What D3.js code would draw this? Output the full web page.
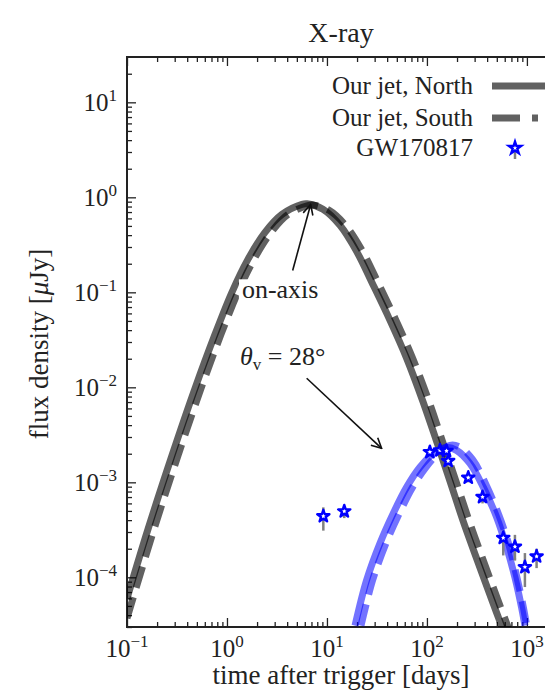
<!DOCTYPE html>
<html>
<head>
<meta charset="utf-8">
<script src="https://cdn.jsdelivr.net/npm/d3@7"></script>
<style>
  body { margin: 0; background: #fff; }
  svg { display: block; font-family: "Liberation Serif", "Times New Roman", serif; }
</style>
</head>
<body>
<svg id="chart" width="545" height="692"></svg>
<script>
// on-axis jet, north / south (days, microJy)
const northTime = [0.1, 0.162, 0.282, 0.479, 0.759, 1.12, 1.62, 2.40, 3.55, 5.62, 6.31, 9.12, 13.5, 19.8, 28.8, 42.7, 62.7, 91.2, 125, 170, 229, 314, 460, 580];
const northFlux = [6.0e-5, 3.2e-4, 1.92e-3, 9.75e-3, 0.0361, 0.100, 0.222, 0.428, 0.662, 0.844, 0.855, 0.748, 0.507, 0.270, 0.121, 0.0507, 0.0202, 7.1e-3, 2.7e-3, 1.03e-3, 3.98e-4, 1.58e-4, 5.3e-5, 2.77e-5];
const southTime = [0.1, 0.186, 0.324, 0.55, 0.871, 1.286, 1.86, 2.76, 4.08, 6.45, 7.24, 10.5, 15.5, 22.7, 33.1, 49.0, 72.0, 105, 143, 195, 263, 360, 528, 666];
const southFlux = [3.7e-5, 3.2e-4, 1.92e-3, 9.75e-3, 0.0361, 0.100, 0.222, 0.428, 0.662, 0.82, 0.83, 0.73, 0.50, 0.27, 0.121, 0.0507, 0.0202, 7.1e-3, 2.7e-3, 1.03e-3, 3.98e-4, 1.58e-4, 5.3e-5, 2.77e-5];

// off-axis (theta_v = 28 deg)
const offNorthTime = [19.1, 24.9, 33.9, 46, 62.7, 85, 116, 157, 198, 269, 366, 498, 627, 759, 885, 955];
const offNorthFlux = [3.1e-5, 9.3e-5, 2.28e-4, 4.7e-4, 8.9e-4, 1.44e-3, 2.02e-3, 2.33e-3, 2.17e-3, 1.58e-3, 8.9e-4, 4.3e-4, 2.07e-4, 1.0e-4, 4.8e-5, 3.1e-5];
const offSouthTime = [21.9, 28.6, 38.9, 52.8, 71.9, 97.7, 132, 170, 214, 288, 389, 525, 661, 794, 923, 1000];
const offSouthFlux = [3.1e-5, 9.3e-5, 2.28e-4, 4.7e-4, 8.9e-4, 1.44e-3, 2.05e-3, 2.45e-3, 2.35e-3, 1.72e-3, 9.5e-4, 4.5e-4, 2.2e-4, 1.0e-4, 4.8e-5, 3.0e-5];

// GW170817 X-ray
const obsTime = [9.2, 14.9, 107, 135, 157, 163, 259, 360, 580, 759, 955, 1250];
const obsFlux = [4.4e-4, 4.95e-4, 2.08e-3, 2.17e-3, 2.14e-3, 1.68e-3, 1.12e-3, 7.0e-4, 2.6e-4, 2.1e-4, 1.28e-4, 1.66e-4];
const obsLow = [3.1e-4, 4.2e-4, 1.9e-3, 2.0e-3, 1.95e-3, 1.5e-3, 1.0e-3, 6.0e-4, 1.7e-4, 1.5e-4, 7.9e-5, 1.25e-4];
const obsHigh = [5.45e-4, 5.2e-4, 2.2e-3, 2.3e-3, 2.3e-3, 1.8e-3, 1.2e-3, 7.6e-4, 3.1e-4, 2.8e-4, 1.8e-4, 2.0e-4];

const xTicks = [0.1, 1, 10, 100, 1000];
const xTickExp = ["\u22121", "0", "1", "2", "3"];
const yTicks = [1e-4, 1e-3, 1e-2, 1e-1, 1, 10];
const yTickExp = ["\u22124", "\u22123", "\u22122", "\u22121", "0", "1"];

const legendLabels = ["Our jet, North", "Our jet, South", "GW170817"];

const svg = d3.select("#chart");
const margin = { top: 57, left: 127, bottom: 627, right: 557 };

const x = d3.scaleLog().domain([0.1, 2000]).range([margin.left, margin.right]);
const y = d3.scaleLog().domain([3e-5, 30]).range([margin.bottom, margin.top]);

const minorOf = (majors) => majors.flatMap((m) => d3.range(2, 10).map((k) => m * k));
const xMinor = minorOf([0.1, 1, 10, 100, 1000]).filter((v) => v < 2000);
const yMinor = minorOf([1e-5, 1e-4, 1e-3, 1e-2, 1e-1, 1, 10]).filter((v) => v > 3e-5 && v < 30);

const defs = svg.append("defs");
defs.append("clipPath").attr("id", "plot-clip")
  .append("rect")
  .attr("x", margin.left).attr("y", margin.top)
  .attr("width", margin.right - margin.left).attr("height", margin.bottom - margin.top);

defs.append("marker")
  .attr("id", "arrow")
  .attr("viewBox", "0 0 12 12")
  .attr("refX", 11).attr("refY", 6)
  .attr("markerWidth", 12).attr("markerHeight", 12)
  .attr("markerUnits", "userSpaceOnUse")
  .attr("orient", "auto")
  .append("path")
  .attr("d", "M1,1 L11,6 L1,11")
  .attr("fill", "none").attr("stroke", "#111").attr("stroke-width", 1.6);

// axes / ticks (inward, all sides)
function tickAxis(axisFn, scale, values, size, transform) {
  svg.append("g")
    .attr("transform", transform)
    .call(axisFn(scale).tickValues(values).tickSize(size).tickSizeOuter(0).tickFormat(""))
    .call((g) => g.select(".domain").remove())
    .call((g) => g.selectAll("line").attr("stroke", "#222").attr("stroke-width", 1.3));
}
tickAxis(d3.axisBottom, x, xTicks, -9, `translate(0,${margin.bottom})`);
tickAxis(d3.axisBottom, x, xMinor, -5, `translate(0,${margin.bottom})`);
tickAxis(d3.axisTop, x, xTicks, -9, `translate(0,${margin.top})`);
tickAxis(d3.axisTop, x, xMinor, -5, `translate(0,${margin.top})`);
tickAxis(d3.axisLeft, y, yTicks, -9, `translate(${margin.left},0)`);
tickAxis(d3.axisLeft, y, yMinor, -5, `translate(${margin.left},0)`);

svg.append("rect")
  .attr("x", margin.left).attr("y", margin.top)
  .attr("width", margin.right - margin.left).attr("height", margin.bottom - margin.top)
  .attr("fill", "none").attr("stroke", "#222").attr("stroke-width", 2);

// tick labels
svg.append("g").selectAll("text")
  .data(xTicks)
  .join("text")
  .attr("x", (d) => x(d))
  .attr("y", margin.bottom + 30)
  .attr("text-anchor", "middle")
  .attr("font-size", 25)
  .attr("fill", "#222")
  .each(function (d, i) {
    const t = d3.select(this);
    t.append("tspan").text("10");
    t.append("tspan").attr("dy", -10).attr("font-size", 17).text(xTickExp[i]);
  });

svg.append("g").selectAll("text")
  .data(yTicks)
  .join("text")
  .attr("x", 117)
  .attr("y", (d) => y(d) + 9)
  .attr("text-anchor", "end")
  .attr("font-size", 25)
  .attr("fill", "#222")
  .each(function (d, i) {
    const t = d3.select(this);
    t.append("tspan").text("10");
    t.append("tspan").attr("dy", -10).attr("font-size", 17).text(yTickExp[i]);
  });

// titles
svg.append("text")
  .attr("x", 341).attr("y", 42)
  .attr("text-anchor", "middle").attr("font-size", 28).attr("fill", "#222")
  .text("X-ray");

svg.append("text")
  .attr("x", 341).attr("y", 684)
  .attr("text-anchor", "middle").attr("font-size", 27).attr("fill", "#222")
  .text("time after trigger [days]");

const yLabel = svg.append("text")
  .attr("transform", "translate(48,344) rotate(-90)")
  .attr("text-anchor", "middle").attr("font-size", 27).attr("fill", "#222");
yLabel.append("tspan").text("flux density [");
yLabel.append("tspan").attr("font-style", "italic").text("\u03bc");
yLabel.append("tspan").text("Jy]");

// curves
const plot = svg.append("g").attr("clip-path", "url(#plot-clip)");
const line = d3.line().x((d) => x(d[0])).y((d) => y(d[1])).curve(d3.curveCatmullRom.alpha(0.5));
const zip = (a, b) => a.map((v, i) => [v, b[i]]);

const curves = [
  { pts: zip(northTime, northFlux), color: "#000", opacity: 0.62, dash: null },
  { pts: zip(southTime, southFlux), color: "#000", opacity: 0.62, dash: "22,10" },
  { pts: zip(offNorthTime, offNorthFlux), color: "#0000ff", opacity: 0.55, dash: null },
  { pts: zip(offSouthTime, offSouthFlux), color: "#0000ff", opacity: 0.55, dash: "22,10" },
];

plot.selectAll(".curve")
  .data(curves)
  .join("path")
  .attr("class", "curve")
  .attr("d", (c) => line(c.pts))
  .attr("fill", "none")
  .attr("stroke", (c) => c.color)
  .attr("stroke-opacity", (c) => c.opacity)
  .attr("stroke-width", 7)
  .attr("stroke-dasharray", (c) => c.dash);

// observations
const obs = obsTime.map((t, i) => ({ t, f: obsFlux[i], lo: obsLow[i], hi: obsHigh[i] }));
plot.selectAll(".err")
  .data(obs)
  .join("line")
  .attr("class", "err")
  .attr("x1", (d) => x(d.t)).attr("x2", (d) => x(d.t))
  .attr("y1", (d) => y(d.hi)).attr("y2", (d) => y(d.lo))
  .attr("stroke", "#808080").attr("stroke-width", 2.5);

const star = d3.symbol().type(d3.symbolStar).size(46);
plot.selectAll(".obs")
  .data(obs)
  .join("path")
  .attr("class", "obs")
  .attr("transform", (d) => `translate(${x(d.t)},${y(d.f)})`)
  .attr("d", star)
  .attr("fill", "#fff").attr("stroke", "#0000ff").attr("stroke-width", 2.4)
  .attr("stroke-linejoin", "round");

// annotations
const onAxis = svg.append("text")
  .attr("x", x(1.41)).attr("y", y(0.0865))
  .attr("font-size", 26).attr("fill", "#222")
  .text("on-axis");
const bb = onAxis.node().getBBox();
svg.insert("rect", () => onAxis.node())
  .attr("x", bb.x - 3).attr("y", bb.y + 4)
  .attr("width", bb.width + 5).attr("height", bb.height - 6)
  .attr("fill", "#fff");

svg.append("line")
  .attr("x1", x(4.54)).attr("y1", y(0.17))
  .attr("x2", x(6.87)).attr("y2", y(0.84))
  .attr("stroke", "#111").attr("stroke-width", 1.6)
  .attr("marker-end", "url(#arrow)");

const theta = svg.append("text")
  .attr("x", x(1.35)).attr("y", y(0.017))
  .attr("font-size", 26).attr("fill", "#222");
theta.append("tspan").attr("font-style", "italic").text("\u03b8");
theta.append("tspan").attr("dy", 5).attr("font-size", 17).text("v");
theta.append("tspan").attr("dy", -5).text(" = 28\u00b0");

svg.append("line")
  .attr("x1", x(6.27)).attr("y1", y(0.01245))
  .attr("x2", x(35.2)).attr("y2", y(2.28e-3))
  .attr("stroke", "#111").attr("stroke-width", 1.6)
  .attr("marker-end", "url(#arrow)");

// legend
const legend = svg.append("g");
const rowY = [86, 118, 148];
legend.selectAll("text")
  .data(legendLabels)
  .join("text")
  .attr("x", 473)
  .attr("y", (d, i) => rowY[i] + 8)
  .attr("text-anchor", "end")
  .attr("font-size", 25)
  .attr("fill", "#222")
  .text((d) => d);

legend.append("line")
  .attr("x1", 492).attr("x2", 560).attr("y1", rowY[0]).attr("y2", rowY[0])
  .attr("stroke", "#000").attr("stroke-opacity", 0.62).attr("stroke-width", 7);
legend.append("line")
  .attr("x1", 492).attr("x2", 538).attr("y1", rowY[1]).attr("y2", rowY[1])
  .attr("stroke", "#000").attr("stroke-opacity", 0.62).attr("stroke-width", 7)
  .attr("stroke-dasharray", "28,12");
legend.append("line")
  .attr("x1", 515).attr("x2", 515).attr("y1", rowY[2]).attr("y2", rowY[2] + 11)
  .attr("stroke", "#808080").attr("stroke-width", 2.5);
legend.append("path")
  .attr("transform", `translate(515,${rowY[2]})`)
  .attr("d", star)
  .attr("fill", "#fff").attr("stroke", "#0000ff").attr("stroke-width", 2.4);
</script>
</body>
</html>
